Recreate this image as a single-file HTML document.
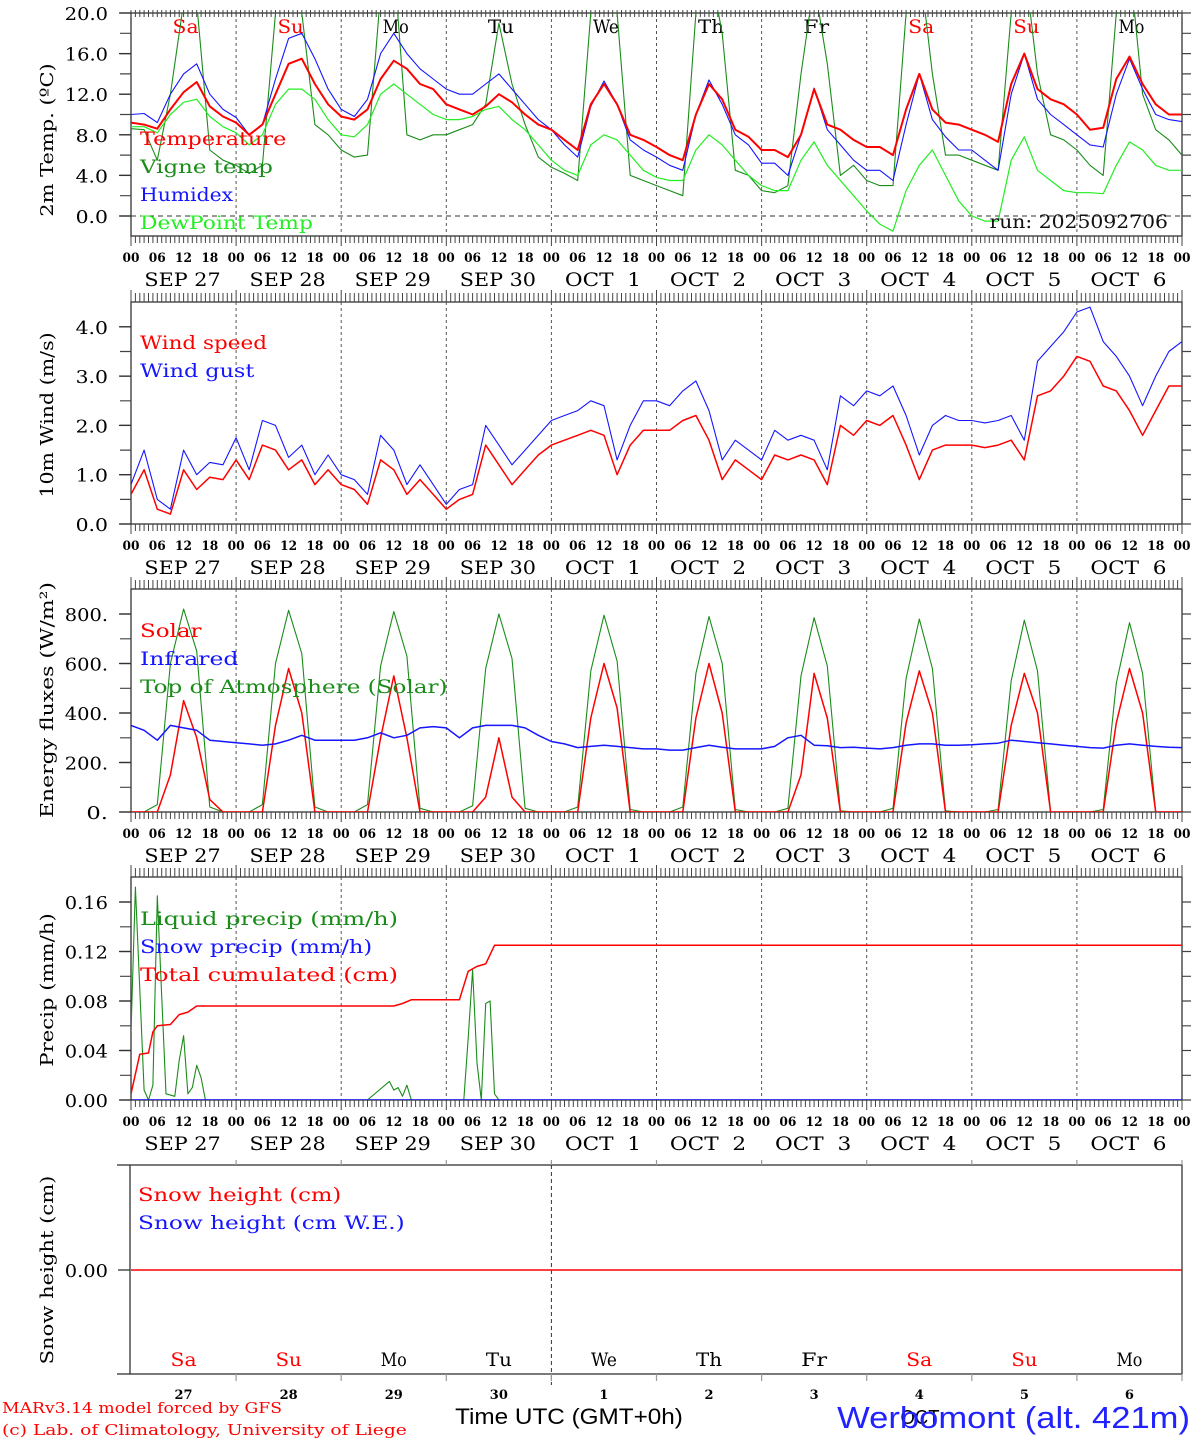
<!DOCTYPE html>
<html><head><meta charset="utf-8">
<style>
html,body{margin:0;padding:0;background:#fff;}
svg{display:block;}
text{font-family:"DejaVu Serif","Liberation Serif",serif;}
.tk{font-size:13px;font-weight:bold;}
.dt{font-size:19px;}
.lg{font-size:19px;}
.yl{font-size:18px;}
.nar{font-family:"Liberation Sans",sans-serif;}
</style></head>
<body>
<svg id="chart" width="1194" height="1440" viewBox="0 0 1194 1440" xmlns="http://www.w3.org/2000/svg"></svg>
<script>
// ---- data (3-hourly from SEP 27 00 UTC) ----
const dayNames = ["Sa","Su","Mo","Tu","We","Th","Fr","Sa","Su","Mo"];
const dayNums = ["27","28","29","30","1","2","3","4","5","6"];
const dayMonths = ["SEP","SEP","SEP","SEP","OCT","OCT","OCT","OCT","OCT","OCT"];
const hourLabels = ["00","06","12","18"];
const tempTicks = [0,4,8,12,16,20];
const tempTickLabels = ["0.0","4.0","8.0","12.0","16.0","20.0"];
const windTicks = [0,1,2,3,4];
const windTickLabels = ["0.0","1.0","2.0","3.0","4.0"];
const fluxTicks = [0,200,400,600,800];
const fluxTickLabels = ["0.","200.","400.","600.","800."];
const precipTicks = [0,0.04,0.08,0.12,0.16];
const precipTickLabels = ["0.00","0.04","0.08","0.12","0.16"];

const temperature = [9.2,9.0,8.6,10.5,12.2,13.2,10.8,9.8, 9.2,8.0,9.0,12.0,15.0,15.5,13.0,11.0, 9.8,9.5,10.5,13.5,15.3,14.5,13.0,12.5, 11.0,10.5,10.0,10.8,12.0,11.2,10.0,9.0, 8.5,7.5,6.5,11.0,13.0,11.0,8.0,7.5, 6.8,6.0,5.5,10.0,13.0,11.5,8.5,7.8, 6.5,6.5,5.8,8.0,12.5,9.0,8.5,7.5, 6.8,6.8,6.0,10.5,14.0,10.5,9.2,9.0, 8.5,8.0,7.3,13.0,16.0,12.5,11.5,11.0, 10.0,8.5,8.7,13.5,15.7,13.0,11.0,10.0, 10.0];
const vigneTemp = [8.6,8.5,5.5,12.0,21.0,21.0,6.5,5.5, 5.0,4.2,5.0,20.0,25.0,20.0,9.0,8.0, 6.5,5.8,6.0,22.0,25.0,8.0,7.5,8.0, 8.0,8.5,9.0,11.0,19.0,13.0,9.0,5.8, 4.8,4.2,3.5,20.0,25.0,20.0,4.0,3.5, 3.0,2.5,2.0,20.0,25.0,18.0,4.5,4.0, 2.5,2.3,3.0,14.0,23.0,15.0,4.0,5.0, 3.5,3.0,3.0,20.0,25.0,14.0,6.0,6.0, 5.5,5.0,4.5,20.0,25.0,14.0,8.0,7.5, 6.5,5.0,4.0,20.0,25.0,12.0,8.5,7.5, 6.0];
const humidex = [10.0,10.1,9.2,12.0,14.0,15.0,12.0,10.5, 9.7,8.0,9.0,13.5,17.5,18.0,15.5,12.5, 10.5,9.8,11.5,16.0,18.0,16.0,14.5,13.5, 12.5,12.0,12.0,13.0,14.0,12.5,11.0,9.5, 8.5,7.0,5.8,10.8,13.3,11.0,7.5,6.5, 5.8,5.0,4.5,10.0,13.4,11.0,8.0,7.0, 5.2,5.2,4.0,8.0,12.6,8.5,7.0,5.5, 4.5,4.5,3.5,9.0,14.0,9.5,7.8,6.5, 6.5,5.5,4.5,12.0,16.0,11.5,10.0,9.0, 8.0,7.0,6.8,12.0,15.5,12.5,10.0,9.5, 9.3];
const dewPoint = [8.8,8.8,8.2,10.0,11.2,11.5,9.8,8.8, 8.2,7.0,8.0,11.0,12.5,12.5,11.5,9.5, 8.0,7.8,9.0,12.0,13.0,12.0,11.0,10.0, 9.5,9.5,9.8,10.5,10.8,9.5,8.5,7.0, 5.5,4.5,4.0,7.0,8.0,7.5,6.0,4.5, 3.8,3.5,3.5,6.5,8.0,7.0,5.5,4.0, 3.0,2.5,2.5,5.5,7.3,5.0,3.5,2.0, 0.5,-0.8,-1.5,2.5,5.0,6.5,4.0,1.5, 0.0,-0.5,-0.5,5.5,7.8,4.5,3.5,2.5, 2.3,2.3,2.2,5.0,7.3,6.5,5.0,4.5, 4.5];
const windSpeed = [0.6,1.1,0.3,0.2,1.1,0.7,0.95,0.9, 1.3,0.9,1.6,1.5,1.1,1.3,0.8,1.1, 0.8,0.7,0.4,1.3,1.1,0.6,0.9,0.6, 0.3,0.5,0.6,1.6,1.2,0.8,1.1,1.4, 1.6,1.7,1.8,1.9,1.8,1.0,1.6,1.9, 1.9,1.9,2.1,2.2,1.7,0.9,1.3,1.1, 0.9,1.4,1.3,1.4,1.3,0.8,2.0,1.8, 2.1,2.0,2.2,1.6,0.9,1.5,1.6,1.6, 1.6,1.55,1.6,1.7,1.3,2.6,2.7,3.0, 3.4,3.3,2.8,2.7,2.3,1.8,2.3,2.8, 2.8];
const windGust = [0.8,1.5,0.5,0.3,1.5,1.0,1.25,1.2, 1.75,1.1,2.1,2.0,1.35,1.6,1.0,1.4, 1.0,0.9,0.6,1.8,1.5,0.8,1.2,0.8, 0.4,0.7,0.8,2.0,1.6,1.2,1.5,1.8, 2.1,2.2,2.3,2.5,2.4,1.3,2.0,2.5, 2.5,2.4,2.7,2.9,2.3,1.3,1.7,1.5, 1.3,1.9,1.7,1.8,1.7,1.1,2.6,2.4, 2.7,2.6,2.8,2.2,1.4,2.0,2.2,2.1, 2.1,2.05,2.1,2.2,1.7,3.3,3.6,3.9, 4.3,4.4,3.7,3.4,3.0,2.4,3.0,3.5, 3.7];
const solar = [0,0,0,150,450,300,50,0, 0,0,0,350,580,400,0,0, 0,0,0,300,550,300,0,0, 0,0,0,60,300,60,0,0, 0,0,0,380,600,420,0,0, 0,0,0,380,600,400,0,0, 0,0,0,150,560,380,0,0, 0,0,0,360,570,400,0,0, 0,0,0,350,560,400,0,0, 0,0,0,360,580,400,0,0, 0];
const infrared = [350,330,290,350,340,330,290,285, 280,275,270,275,290,310,290,290, 290,290,300,320,300,310,340,345, 340,300,340,350,350,350,340,310, 285,275,260,265,270,265,260,255, 255,250,250,260,270,262,255,255, 255,265,300,310,270,268,260,262, 258,255,260,270,275,275,270,270, 272,275,278,290,285,280,275,270, 265,260,258,270,275,270,265,262, 260];
const toaSolar = [0,0,30,600,820,650,20,0, 0,0,30,600,815,640,20,0, 0,0,30,590,810,630,15,0, 0,0,25,580,800,620,15,0, 0,0,20,570,795,610,10,0, 0,0,20,560,790,600,10,0, 0,0,15,550,785,590,5,0, 0,0,15,540,780,580,5,0, 0,0,10,530,775,570,0,0, 0,0,10,520,765,560,0,0, 0];
const liquidHours = [0,1,3,4,5,6,8,10,11,12,13,14,15,16,17, 54,59,60,61,62,63,64, 76,77,78,79,80,81,82,83,84, 240];
const liquidPrecip = [0.055,0.172,0.008,0.0,0.012,0.165,0.005,0.003,0.032,0.052,0.005,0.01,0.028,0.018,0.0, 0.0,0.015,0.008,0.01,0.003,0.012,0.0, 0.0,0.05,0.105,0.03,0.0,0.078,0.08,0.005,0.0, 0.0];
const cumHours = [0,2,4,5,6,9,11,13,15, 60,62,64,75,77,79,81,83, 240];
const cumPrecip = [0.005,0.037,0.038,0.055,0.06,0.061,0.069,0.071,0.076, 0.076,0.078,0.081,0.081,0.104,0.108,0.11,0.125, 0.125];
const snowHours = [0,240];
const snowHeight = [0,0];

// ---- geometry ----
const svg = document.getElementById('chart');
const NS = 'http://www.w3.org/2000/svg';
const X0 = 131, X1 = 1182;
function X(h){ return X0 + h*(X1-X0)/240; }
function el(tag, attrs, parent){
  const e = document.createElementNS(NS, tag);
  for (const k in attrs) e.setAttribute(k, attrs[k]);
  (parent||svg).appendChild(e);
  return e;
}
function txt(s, x, y, cls, fill, anchor, parent, perChar){
  const t = el('text', {x:x, y:y, 'class':cls, fill:fill||'#000', 'text-anchor':anchor||'start'}, parent);
  t.textContent = s;
  if (perChar){
    t.setAttribute('textLength', (s.length*perChar).toFixed(1));
    t.setAttribute('lengthAdjust', 'spacingAndGlyphs');
  }
  return t;
}
function scale(zeroY, ppu){ return v => zeroY - v*ppu; }
const panels = [
  {top:13, bottom:236, y:scale(216,10.15), id:'temp'},
  {top:302, bottom:524, y:scale(524,49.3), id:'wind'},
  {top:589, bottom:812, y:scale(812,0.2475), id:'flux'},
  {top:877, bottom:1100, y:scale(1100,1237.5), id:'precip'}
];
const defs = el('defs', {});
panels.forEach(p => {
  const cp = el('clipPath', {id:'clip-'+p.id}, defs);
  el('rect', {x:X0, y:p.top, width:X1-X0, height:p.bottom-p.top}, cp);
});

function series(name, hours, vals, p, color, w){
  const pts = vals.map((v,i)=> X(hours?hours[i]:i*3).toFixed(1)+','+p.y(v).toFixed(1)).join(' ');
  const pl = el('polyline', {points:pts, fill:'none', stroke:color, 'stroke-width':w||1.2, 'clip-path':'url(#clip-'+p.id+')', 'stroke-linejoin':'round'});
  
  
}

function frame(p, ticks, labels, minorStep, yTitle, titleY, topInside){
  const g = el('g', {});
  
  
  el('rect', {x:X0, y:p.top, width:X1-X0, height:p.bottom-p.top, fill:'none', stroke:'#333', 'stroke-width':1.3}, g);
  for (let d=1; d<10; d++){
    el('line', {x1:X(d*24), x2:X(d*24), y1:p.top, y2:p.bottom, stroke:'#555', 'stroke-width':1, 'stroke-dasharray':'3,3'}, g);
  }
  let tp = '';
  for (let h=0; h<=240; h++){
    const x = X(h).toFixed(1);
    const lb = (h%24===0) ? 10 : 7;
    tp += 'M'+x+','+p.bottom+'v'+lb;
    if (topInside) tp += 'M'+x+','+(p.top-3)+'v7';
    else tp += 'M'+x+','+p.top+'v-'+((h%24===0)?12:9);
  }
  el('path', {d:tp, stroke:'#444', 'stroke-width':1, fill:'none'}, g);
  let yp = '';
  const lo = ticks[0], hi = ticks[ticks.length-1];
  for (let v=lo; v<=hi+1e-9; v+=minorStep){
    const y = p.y(v).toFixed(1);
    yp += 'M'+(X0-11)+','+y+'h11';
    yp += 'M'+X1+','+y+'h9';
  }
  el('path', {d:yp, stroke:'#444', 'stroke-width':1.2, fill:'none'}, g);
  ticks.forEach((v,i)=>{
    el('line', {x1:X0-12, x2:X0, y1:p.y(v), y2:p.y(v), stroke:'#333', 'stroke-width':1.3}, g);
    const t = txt(labels[i], 108, p.y(v)+7, 'yl', '#000', 'end', g, 10.8);
    
    
  });
  for (let h=0; h<=240; h+=6){
    const t = txt(hourLabels[(h/6)%4], X(h), p.bottom+26, 'tk', '#000', 'middle', g, 8.5);
    
    
  }
  for (let d=0; d<10; d++){
    const s = dayMonths[d]+(dayMonths[d]==='OCT'?'  ':' ')+dayNums[d];
    const t = txt(s, X(d*24+12)-1, p.bottom+50, 'dt', '#000', 'middle', g, s.length===6?12.7:10.7);
    t.style.whiteSpace = 'pre';
    
    
  }
  const yt = txt(yTitle, 0, 0, 'yl', '#000', 'middle', g, 11.8);
  yt.setAttribute('transform', 'translate(53,'+titleY+') rotate(-90)');
  
  
}

function legend(items, x, y0, step, pc){
  items.forEach((it,i)=>{
    const t = txt(it[0], x, y0+i*step, 'lg', it[1], 'start', null, pc);
    
    
  });
}

// ---- Panel 1: temperature ----
const P1 = panels[0];
frame(P1, tempTicks, tempTickLabels, 2, '2m Temp. (ºC)', 140, true);
el('line', {x1:X0, x2:X1, y1:P1.y(0), y2:P1.y(0), stroke:'#333', 'stroke-width':1, 'stroke-dasharray':'5,4'});
const dayColors = ['#f00','#f00','#000','#000','#000','#000','#000','#f00','#f00','#000'];
for (let d=0; d<10; d++){
  const t = txt(dayNames[d], X(d*24+12)+2, 33, 'lg', dayColors[d], 'middle', null, 13);
  
  
}
series('vigne-temp-line', null, vigneTemp, P1, '#1a8c1a', 1.1);
series('dewpoint-line', null, dewPoint, P1, '#22ee22', 1.2);
series('humidex-line', null, humidex, P1, '#1515ff', 1.1);
series('temperature-line', null, temperature, P1, '#ff0000', 2);
legend([['Temperature','#f00'],['Vigne temp','#1a8c1a'],['Humidex','#1515ff'],['DewPoint Temp','#22ee22']], 140, 145, 28, 13.3);
const run = txt('run: 2025092706', 1168, 228, 'lg', '#111', 'end', null, 11.9);



// ---- Panel 2: wind ----
const P2 = panels[1];
frame(P2, windTicks, windTickLabels, 0.5, '10m Wind (m/s)', 415, false);
series('wind-gust-line', null, windGust, P2, '#1515ff', 1.1);
series('wind-speed-line', null, windSpeed, P2, '#ff0000', 1.5);
legend([['Wind speed','#f00'],['Wind gust','#1515ff']], 140, 349, 28, 12.7);

// ---- Panel 3: energy fluxes ----
const P3 = panels[2];
frame(P3, fluxTicks, fluxTickLabels, 100, 'Energy fluxes (W/m²)', 700, false);
series('toa-solar-line', null, toaSolar, P3, '#1a8c1a', 1.1);
series('solar-line', null, solar, P3, '#ff0000', 1.5);
series('infrared-line', null, infrared, P3, '#1515ff', 1.5);
legend([['Solar','#f00'],['Infrared','#1515ff'],['Top of Atmosphere (Solar)','#1a8c1a']], 140, 637, 28, 12.3);

// ---- Panel 4: precip ----
const P4 = panels[3];
frame(P4, precipTicks, precipTickLabels, 0.02, 'Precip (mm/h)', 990, false);
series('liquid-precip-line', liquidHours, liquidPrecip, P4, '#1a8c1a', 1.1);
series('snow-precip-line', snowHours, snowHeight, P4, '#1515ff', 1.5);
series('total-cumulated-line', cumHours, cumPrecip, P4, '#ff0000', 1.5);
legend([['Liquid precip (mm/h)','#1a8c1a'],['Snow precip (mm/h)','#1515ff'],['Total cumulated (cm)','#f00']], 140, 925, 28, 12.9);

// ---- Panel 5: snow ----
const g5 = el('g', {});


el('rect', {x:130, y:1165, width:X1-130, height:1374-1165, fill:'none', stroke:'#333', 'stroke-width':1.3}, g5);
el('line', {x1:117, x2:130, y1:1165, y2:1165, stroke:'#333', 'stroke-width':1.3}, g5);
el('line', {x1:117, x2:130, y1:1374, y2:1374, stroke:'#333', 'stroke-width':1.3}, g5);
el('line', {x1:X(96), x2:X(96), y1:1165, y2:1385, stroke:'#333', 'stroke-width':1, 'stroke-dasharray':'4,3'}, g5);
for (let d=1; d<=10; d++){
  el('line', {x1:X(d*24), x2:X(d*24), y1:1374, y2:1381, stroke:'#999', 'stroke-width':1.2}, g5);
  el('line', {x1:X(d*24), x2:X(d*24), y1:1160, y2:1165, stroke:'#999', 'stroke-width':1.2}, g5);
}
el('line', {x1:118, x2:130, y1:1270, y2:1270, stroke:'#333', 'stroke-width':1.3}, g5);
const z5 = txt('0.00', 108, 1277, 'yl', '#000', 'end', g5, 10.8);


const yt5 = txt('Snow height (cm)', 0, 0, 'yl', '#000', 'middle', g5, 11.8);
yt5.setAttribute('transform', 'translate(53,1270) rotate(-90)');


const P5 = {id:'snow', top:1165, bottom:1374, y:scale(1270,10)};
const cp5 = el('clipPath', {id:'clip-snow'}, defs);
el('rect', {x:X0, y:1165, width:X1-X0, height:209}, cp5);
series('snow-height-line', snowHours, snowHeight, P5, '#ff0000', 1.5);
legend([['Snow height (cm)','#f00'],['Snow height (cm W.E.)','#1515ff']], 138, 1201, 28, 12.7);
for (let d=0; d<10; d++){
  const t = txt(dayNames[d], X(d*24+12), 1366, 'lg', dayColors[d], 'middle', null, 13);
  
  
  const n = txt(dayNums[d], X(d*24+12), 1399, 'tk', '#000', 'middle');
  
  
}
const oct = txt('OCT', 920, 1424, 'nar', '#000', 'middle', null, 13);
oct.setAttribute('font-size', '20');


const xt = txt('Time UTC (GMT+0h)', 569, 1424, 'nar', '#000', 'middle', null, 13.4);
xt.setAttribute('font-size', '22');


const st = txt('Werbomont (alt. 421m)', 1190, 1428, 'nar', '#2222ff', 'end', null, 16.8);
st.setAttribute('font-size', '31');


const c1 = txt('MARv3.14 model forced by GFS', 2, 1413, '', '#f00', 'start', null, 10.0);
c1.setAttribute('font-size', '15');


const c2 = txt('(c) Lab. of Climatology, University of Liege', 2, 1435, '', '#f00', 'start', null, 9.2);
c2.setAttribute('font-size', '15');


</script>
</body></html>
